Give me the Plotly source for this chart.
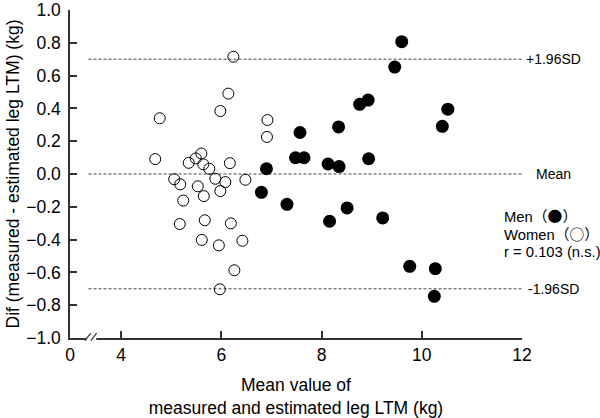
import plotly.graph_objects as go

# ---- data ----
men_x = [6.80, 6.90, 7.31, 7.48, 7.57, 7.65, 8.13, 8.16, 8.34, 8.35, 8.51,
         8.76, 8.93, 8.94, 9.22, 9.46, 9.60, 9.76, 10.25, 10.27, 10.41, 10.52]
men_y = [-0.112, 0.032, -0.185, 0.099, 0.253, 0.099, 0.061, -0.288, 0.287, 0.045, -0.207,
         0.425, 0.451, 0.093, -0.268, 0.652, 0.807, -0.563, -0.746, -0.577, 0.291, 0.395]

women_x = [4.77, 4.68, 6.24, 6.14, 5.98, 6.92, 6.91, 5.60, 5.49, 5.35, 5.64, 5.76, 6.17,
           5.06, 5.18, 5.53, 5.88, 6.08, 6.48, 5.98, 5.65, 5.24, 5.17, 5.67, 6.19,
           5.61, 5.95, 6.42, 6.26, 5.97]
women_y = [0.340, 0.091, 0.715, 0.490, 0.384, 0.329, 0.226, 0.125, 0.095, 0.068, 0.059, 0.032, 0.066,
           -0.032, -0.063, -0.075, -0.029, -0.049, -0.035, -0.104, -0.135, -0.162, -0.305, -0.282, -0.301,
           -0.402, -0.435, -0.407, -0.587, -0.703]

ref_values = [0.70, 0.0, -0.70]
ref_labels = ["+1.96SD", "Mean", "-1.96SD"]

x_tickvals = [2.98, 4, 6, 8, 10, 12]
x_ticktext = ["0", "4", "6", "8", "10", "12"]

CJK = "<span style='font-family:Noto Sans CJK JP'>"
legend_lines = ["Men" + CJK + "（●）</span>",
                "Women" + CJK + "（○）</span>",
                "r = 0.103 (n.s.)"]

FONT = "Liberation Sans, Arial, sans-serif"
AX = "#333333"
FS = 17.5

fig = go.Figure()

# reference dashed lines
for v in ref_values:
    fig.add_shape(type="line", xref="x", yref="y", x0=3.35, x1=12, y0=v, y1=v,
                  line=dict(color="#444444", width=1, dash="3px,2px"), layer="below")

fig.add_trace(go.Scatter(x=women_x, y=women_y, mode="markers", name="Women",
                         marker=dict(symbol="circle-open", size=11, color="black",
                                     line=dict(width=1, color="black")),
                         cliponaxis=False, showlegend=False, hoverinfo="skip"))
fig.add_trace(go.Scatter(x=men_x, y=men_y, mode="markers", name="Men",
                         marker=dict(symbol="circle", size=13, color="black"),
                         cliponaxis=False, showlegend=False, hoverinfo="skip"))

annotations = []
for v, lab in zip(ref_values, ref_labels):
    annotations.append(dict(x=12, y=v, xref="x", yref="y", text=lab, showarrow=False,
                            xanchor="center", yanchor="middle", xshift=31,
                            font=dict(family=FONT, size=14, color="black")))
for i, lab in enumerate(legend_lines):
    annotations.append(dict(x=0.955, y=0.375 - i * 0.0564, xref="paper", yref="paper",
                            text=lab, showarrow=False, xanchor="left", yanchor="middle",
                            font=dict(family=FONT, size=14.8, color="black")))

# axis break marks on x axis
shapes_extra = [
    dict(type="rect", xref="paper", yref="paper", x0=0.036, x1=0.058, y0=-0.008, y1=0.008,
         fillcolor="white", line=dict(width=0), layer="above"),
    dict(type="line", xref="paper", yref="paper", x0=0.033, x1=0.046, y0=-0.008, y1=0.015,
         line=dict(color=AX, width=1.2), layer="above"),
    dict(type="line", xref="paper", yref="paper", x0=0.046, x1=0.059, y0=-0.008, y1=0.015,
         line=dict(color=AX, width=1.2), layer="above"),
]
for s in shapes_extra:
    fig.add_shape(**s)

fig.update_layout(
    width=600, height=418, autosize=False,
    margin=dict(l=70, r=77.6, t=10, b=80),
    plot_bgcolor="white", paper_bgcolor="white",
    font=dict(family=FONT, size=FS, color="black"),
    annotations=annotations,
    xaxis=dict(range=[2.98, 12], showline=True, linecolor=AX, linewidth=1.5,
               ticks="inside", ticklen=7, tickwidth=1.5, tickcolor=AX,
               tickvals=x_tickvals, ticktext=x_ticktext, showgrid=False, zeroline=False,
               tickfont=dict(size=FS, color="black"), automargin=False,
               title=dict(text="Mean value of<br>measured and estimated leg LTM (kg)",
                          font=dict(size=FS, color="black"), standoff=16)),
    yaxis=dict(range=[-1, 1], dtick=0.2, tickformat=".1f", showline=True, linecolor=AX,
               linewidth=1.5, ticks="inside", ticklen=7, tickwidth=1.5, tickcolor=AX,
               showgrid=False, zeroline=False, tickfont=dict(size=FS, color="black"),
               automargin=False, ticklabelstandoff=4,
               title=dict(text="Dif (measured - estimated leg LTM) (kg)",
                          font=dict(size=FS, color="black"), standoff=2)),
)

fig.write_html("out.html", config={"displayModeBar": False},
               post_script="document.body.style.margin='0';document.body.style.overflow='hidden';")
